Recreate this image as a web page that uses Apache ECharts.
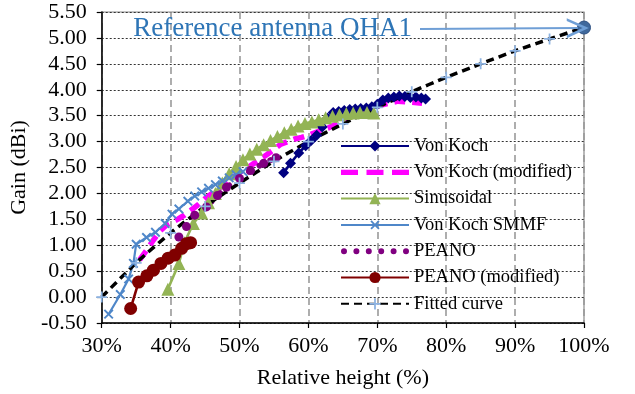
<!DOCTYPE html>
<html>
<head>
<meta charset="utf-8">
<script src="https://cdn.jsdelivr.net/npm/echarts@6/dist/echarts.min.js"></script>
<style>html,body{margin:0;padding:0;background:#fff}#c{width:635px;height:394px}</style>
</head>
<body>
<div id="c"></div>
<script>
// ---- data (relative height %, gain dBi) ----
const legendNames = ['Von Koch','Von Koch (modified)','Sinusoidal','Von Koch SMMF','PEANO','PEANO (modified)','Fitted curve'];

const vkX = [56.4,57.4,58.6,59.6,60.4,61.2,62.0,62.8,63.6,64.4,65.2,66.0,66.8,67.6,68.4,69.2,70.0,70.8,71.6,72.4,73.2,74.0,74.8,75.6,76.4,77.0];
const vkY = [2.40,2.58,2.78,2.92,3.02,3.12,3.28,3.45,3.56,3.58,3.60,3.62,3.63,3.64,3.65,3.67,3.72,3.80,3.84,3.86,3.88,3.87,3.85,3.86,3.84,3.82];

const vkmX = [35.5,36.5,37.5,38.5,39.5,41.0,42.0,43.0,44.0,45.0,46.0,47.0,48.0,49.0,50.0,51.0,52.0,53.0,54.0,55.0,56.0,57.0,58.0,59.0,60.0,61.5,63.0,65.0,67.0,69.0,71.0,73.0,75.0,76.5];
const vkmY = [0.72,0.90,1.10,1.28,1.40,1.50,1.58,1.68,1.78,1.90,2.00,2.10,2.20,2.30,2.40,2.48,2.57,2.66,2.75,2.85,2.95,3.00,3.05,3.08,3.12,3.20,3.27,3.40,3.55,3.65,3.72,3.78,3.76,3.74];

const sinX = [39.6,41.2,42.0,43.3,44.5,45.5,46.5,47.5,48.5,49.5,50.5,51.5,52.5,53.5,54.5,55.5,56.5,57.5,58.5,59.5,60.5,61.5,62.5,63.5,64.5,65.5,66.5,67.5,68.5,69.5];
const sinY = [0.15,0.65,1.05,1.42,1.62,1.82,2.00,2.20,2.38,2.52,2.65,2.76,2.85,2.94,3.02,3.10,3.17,3.24,3.30,3.35,3.38,3.42,3.46,3.49,3.52,3.54,3.55,3.56,3.56,3.55];

const smmfX = [31.0,32.7,33.9,34.6,35.0,36.5,37.8,39.2,40.2,41.2,42.5,43.5,44.5,45.5,46.5,47.5,48.5,49.5,50.5];
const smmfY = [-0.33,0.05,0.35,0.65,1.02,1.15,1.25,1.42,1.60,1.70,1.85,1.95,2.03,2.10,2.17,2.24,2.30,2.36,2.42];

const peanoX = [41.2,42.3,43.5,45.2,46.8,48.1,50.0,51.6,53.5,55.3];
const peanoY = [1.16,1.36,1.58,1.74,1.96,2.12,2.29,2.44,2.58,2.69];

const peanoModX = [34.2,35.35,36.55,37.5,38.6,39.65,40.6,41.6,42.3,42.9];
const peanoModY = [-0.22,0.29,0.41,0.52,0.65,0.75,0.81,0.94,1.03,1.05];

const fitX = [30,35,40,45,50,55,60,65,70,75,80,85,90,95,100];
const fitY = [0.00,0.66,1.24,1.75,2.20,2.62,3.00,3.34,3.66,3.96,4.24,4.50,4.75,4.98,5.20];

const refX = [100];
const refY = [5.20];
const refLabel = 'Reference antenna QHA1';
const arrowFrom = [76.2, 5.17];
const arrowTo = [99.1, 5.19];

const pairs = (xs, ys) => xs.map((x, i) => [x, ys[i]]);

const FONT = '"Liberation Serif","Times New Roman",serif';
const PLUS = 'path://M4.2,0H5.8V4.2H10V5.8H5.8V10H4.2V5.8H0V4.2H4.2Z';
const CHEVRON = 'path://M5,0L10,10L8.6,10L5,2.8L1.4,10L0,10Z';
// legend icons (68 x 14 box; tiny corner specks fix the bounding box)
const BOX = 'M0,0L0.01,0L0,0.01Z M68,14L67.99,14L68,13.99Z ';
const DASH_ICON = 'path://' + BOX + 'M0,4.4H17V9.6H0Z M25.5,4.4H42.5V9.6H25.5Z M51,4.4H68V9.6H51Z';
const dot = (cx) => 'M' + (cx - 3) + ',7A3,3 0 1,0 ' + (cx + 3) + ',7A3,3 0 1,0 ' + (cx - 3) + ',7Z ';
const DOT_ICON = 'path://' + BOX + [3, 15.4, 27.8, 40.2, 52.6, 65].map(dot).join('');

const chart = echarts.init(document.getElementById('c'), null, {renderer: 'canvas'});

const legendData = legendNames.map(n => {
  if (n === 'Von Koch (modified)') return {name: n, icon: DASH_ICON, itemStyle: {borderWidth: 0}};
  if (n === 'PEANO') return {name: n, icon: DOT_ICON, itemStyle: {borderWidth: 0}};
  return {name: n};
});

const option = {
  animation: false,
  backgroundColor: '#fff',
  grid: {left: 96, right: 51, top: 12, bottom: 69, show: true, borderColor: '#8a8a8a', borderWidth: 1.2, backgroundColor: 'transparent'},
  xAxis: {
    type: 'value', min: 30, max: 100, interval: 10,
    name: 'Relative height (%)', nameLocation: 'middle', nameGap: 44,
    nameTextStyle: {fontFamily: FONT, fontSize: 22, color: '#000'},
    axisLine: {show: true, onZero: false, lineStyle: {color: '#000', width: 1.5}},
    axisTick: {show: true, length: 5, lineStyle: {color: '#000', width: 1.2}},
    axisLabel: {fontFamily: FONT, fontSize: 22, color: '#000', margin: 12, formatter: v => v + '%'},
    splitLine: {show: true, lineStyle: {color: '#9a9a9a', width: 1.6, type: [7, 4]}}
  },
  yAxis: {
    type: 'value', min: -0.5, max: 5.5, interval: 0.5,
    name: 'Gain (dBi)', nameLocation: 'middle', nameGap: 61, nameRotate: 90,
    nameTextStyle: {fontFamily: FONT, fontSize: 22, color: '#000'},
    axisLine: {show: true, onZero: false, lineStyle: {color: '#000', width: 1.5}},
    axisTick: {show: true, length: 5, lineStyle: {color: '#000', width: 1.2}},
    axisLabel: {fontFamily: FONT, fontSize: 22, color: '#000', margin: 15, formatter: v => v.toFixed(2)},
    splitLine: {show: true, lineStyle: {color: '#333', width: 1, type: [2, 2]}}
  },
  legend: {
    data: legendData,
    orient: 'vertical', left: 335, top: 131,
    itemWidth: 68, itemHeight: 14, itemGap: 6.3,
    textStyle: {fontFamily: FONT, fontSize: 18.5, color: '#000', lineHeight: 20},
    selectedMode: false
  },
  series: [
    {name: 'Von Koch', type: 'line', data: pairs(vkX, vkY), symbol: 'diamond', symbolSize: 11,
     itemStyle: {color: '#000080'}, lineStyle: {color: '#000080', width: 2.6}},
    {name: 'Von Koch (modified)', type: 'line', data: pairs(vkmX, vkmY), symbol: 'none',
     itemStyle: {color: '#ff00ff'}, lineStyle: {color: '#ff00ff', width: 5.5, type: [11, 7]}},
    {name: 'Sinusoidal', type: 'line', data: pairs(sinX, sinY), symbol: 'triangle', symbolSize: 13,
     itemStyle: {color: '#93b455'}, lineStyle: {color: '#93b455', width: 2.6}},
    {name: 'Von Koch SMMF', type: 'line', data: pairs(smmfX, smmfY), symbol: PLUS, symbolRotate: 45, symbolSize: 12,
     itemStyle: {color: '#4f87c9'}, lineStyle: {color: '#4f87c9', width: 2.2}},
    {name: 'PEANO', type: 'line', data: pairs(peanoX, peanoY), symbol: 'circle', symbolSize: 9,
     itemStyle: {color: '#800080'}, lineStyle: {color: '#800080', width: 6, type: [0.1, 12], cap: 'round'}},
    {name: 'PEANO (modified)', type: 'line', data: pairs(peanoModX, peanoModY), symbol: 'circle', symbolSize: 13,
     itemStyle: {color: '#800000'}, lineStyle: {color: '#800000', width: 2.6}},
    {name: 'Fitted curve', type: 'line', data: pairs(fitX, fitY), symbol: PLUS, symbolSize: 11, smooth: 0.2,
     itemStyle: {color: '#8db3e2'}, lineStyle: {color: '#000', width: 3.5, type: [8, 5]}},
    {name: 'Reference', type: 'line', data: pairs(refX, refY), symbol: 'circle', symbolSize: 13,
     itemStyle: {color: '#40699c', borderColor: '#2f5283', borderWidth: 1},
     markLine: {
       silent: true, animation: false,
       symbol: ['none', CHEVRON], symbolSize: [20, 22],
       lineStyle: {color: '#6f9fd6', width: 2, type: 'solid'},
       label: {show: true, position: 'start', distance: 8, formatter: refLabel,
               fontFamily: FONT, fontSize: 27, color: '#2e75b6'},
       data: [[{coord: arrowFrom}, {coord: arrowTo}]]
     }}
  ]
};
chart.setOption(option);
</script>
</body>
</html>
